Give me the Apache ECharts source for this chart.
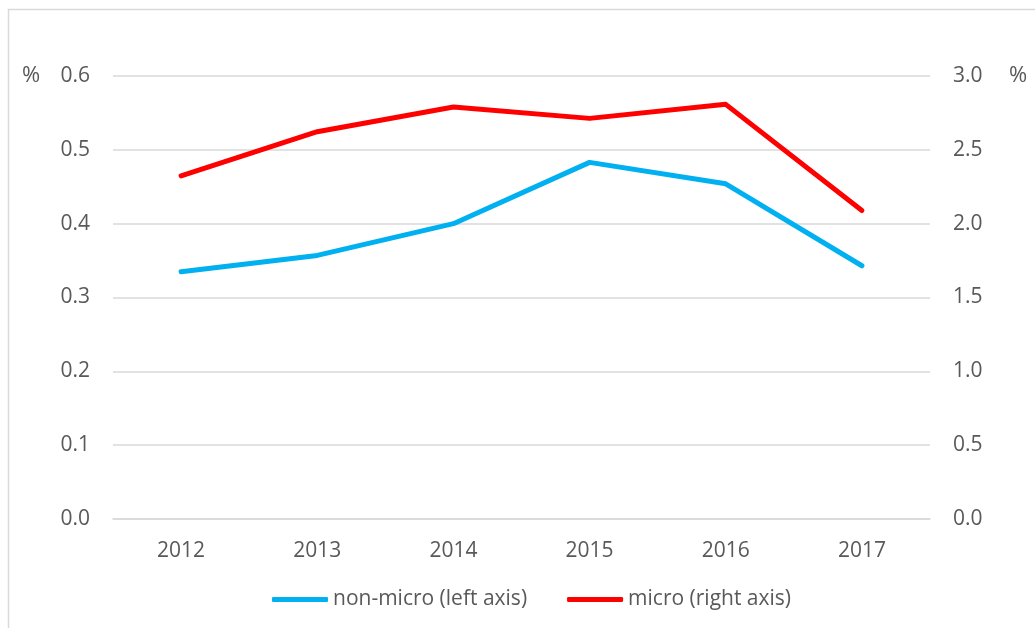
<!DOCTYPE html>
<html>
<head>
<meta charset="utf-8">
<script src="https://cdn.jsdelivr.net/npm/echarts@6/dist/echarts.min.js"></script>
<style>
  html, body { margin: 0; padding: 0; background: #fff; }
  #chart { width: 1035px; height: 628px; }
</style>
</head>
<body>
<div id="chart"></div>
<script>
const years = ['2012', '2013', '2014', '2015', '2016', '2017']
// left axis
const nonMicro = [0.335, 0.357, 0.400, 0.483, 0.454, 0.343]
// right axis
const micro = [2.324, 2.623, 2.790, 2.713, 2.808, 2.089]

const labelFont = { fontFamily: 'Open Sans', fontSize: 21, color: '#595959' }

const myChart = echarts.init(document.getElementById('chart'))
const option = {
  animation: false,
  backgroundColor: '#fff',
  textStyle: { fontFamily: 'Open Sans' },
  grid: { left: 113, right: 105, top: 76, bottom: 109 },
  graphic: [
    {
      type: 'rect',
      shape: { x: 8.5, y: 9.5, width: 1200, height: 800 },
      style: { fill: 'none', stroke: '#d9d9d9', lineWidth: 1.5 },
      silent: true
    },
    {
      type: 'text', left: 22, top: 65,
      style: { text: '%', fontFamily: 'Open Sans', fontSize: 22, fill: '#595959' }
    },
    {
      type: 'text', left: 1009, top: 65,
      style: { text: '%', fontFamily: 'Open Sans', fontSize: 22, fill: '#595959' }
    }
  ],
  legend: {
    bottom: 13,
    left: 267,
    icon: 'roundRect',
    itemWidth: 56,
    itemHeight: 5,
    itemGap: 40,
    textStyle: { fontFamily: 'Open Sans', fontSize: 21, color: '#595959' },
    data: ['non-micro (left axis)', 'micro (right axis)']
  },
  xAxis: {
    type: 'category',
    data: years,
    axisLine: { show: true, lineStyle: { color: '#d9d9d9', width: 1.5 } },
    axisTick: { show: false },
    axisLabel: { ...labelFont, margin: 22 }
  },
  yAxis: [
    {
      type: 'value',
      min: 0,
      max: 0.6,
      interval: 0.1,
      axisLine: { show: false },
      axisTick: { show: false },
      axisLabel: { ...labelFont, margin: 23, formatter: v => v.toFixed(1) },
      splitLine: { lineStyle: { color: '#d9d9d9', width: 1.5 } }
    },
    {
      type: 'value',
      min: 0,
      max: 3,
      interval: 0.5,
      axisLine: { show: false },
      axisTick: { show: false },
      axisLabel: { ...labelFont, margin: 23, formatter: v => v.toFixed(1) },
      splitLine: { show: false }
    }
  ],
  series: [
    {
      name: 'non-micro (left axis)',
      type: 'line',
      yAxisIndex: 0,
      data: nonMicro,
      showSymbol: false,
      symbol: 'none',
      itemStyle: { color: '#00b0f0' },
      lineStyle: { color: '#00b0f0', width: 5, cap: 'round', join: 'round' }
    },
    {
      name: 'micro (right axis)',
      type: 'line',
      yAxisIndex: 1,
      data: micro,
      showSymbol: false,
      symbol: 'none',
      itemStyle: { color: '#ff0000' },
      lineStyle: { color: '#ff0000', width: 5, cap: 'round', join: 'round' }
    }
  ]
}
myChart.setOption(option)
</script>
</body>
</html>
